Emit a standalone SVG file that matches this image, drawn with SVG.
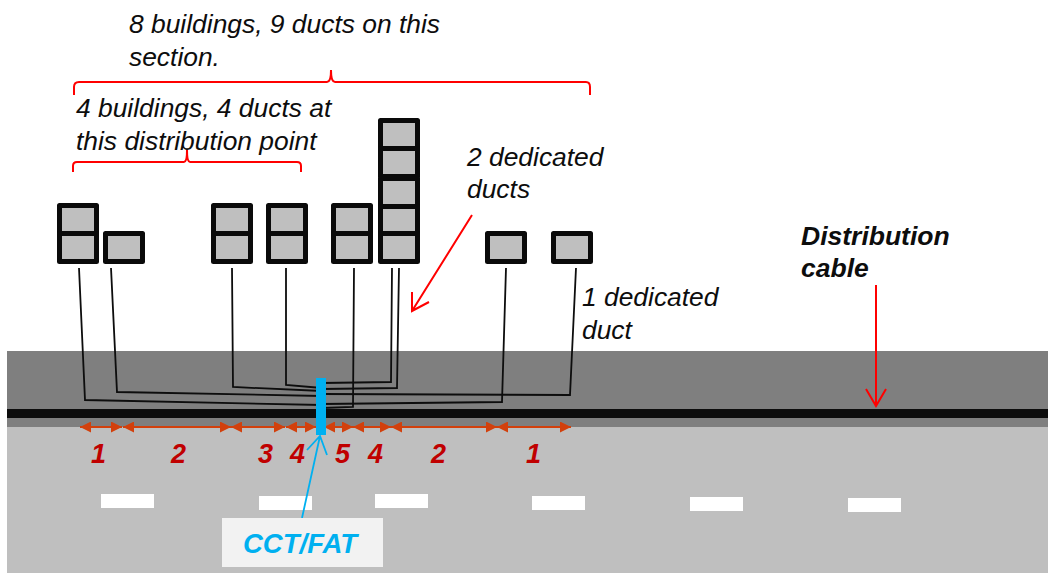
<svg xmlns="http://www.w3.org/2000/svg" width="1048" height="573" viewBox="0 0 1048 573">
<style>
text{font-family:"Liberation Sans",Arial,sans-serif}
.n{font-size:26.400px;font-style:italic;fill:#0d0d0d}
.b{font-size:26.500px;font-style:italic;font-weight:bold;fill:#0d0d0d}
.d{font-size:27px;font-style:italic;font-weight:bold;fill:#c00000}
.c{fill:#bfbfbf;stroke:#0a0a0a;stroke-width:5;stroke-linejoin:round}
.w{fill:#fff}
.l{fill:none;stroke:#0d0d0d;stroke-width:1.800}
.r{fill:none;stroke:#f00;stroke-width:2}
.o{stroke:#d2400c;stroke-width:2;marker-start:url(#h);marker-end:url(#h)}
</style>
<defs><marker id="h" markerUnits="userSpaceOnUse" markerWidth="11" markerHeight="11" refX="11" refY="5.500" orient="auto-start-reverse"><path d="M0 0L11 5.500L0 11Z" fill="#d2400c"/></marker></defs>
<g id="road">
<rect x="7" y="351" width="1041" height="76" fill="#7f7f7f"/>
<rect x="7" y="427" width="1041" height="146" fill="#bfbfbf"/>
<rect x="7" y="409" width="1041" height="9" fill="#0d0d0d"/>
<rect class="w" x="101" y="494" width="53" height="14"/>
<rect class="w" x="259" y="496" width="53" height="14"/>
<rect class="w" x="375" y="494" width="53" height="14"/>
<rect class="w" x="532" y="496" width="53" height="14"/>
<rect class="w" x="690" y="497" width="53" height="14"/>
<rect class="w" x="848" y="498" width="53" height="14"/>
</g>
<g id="building-1"><rect class="c" x="59.500" y="205.500" width="37" height="28"/><rect class="c" x="59.500" y="233.500" width="37" height="28"/></g>
<g id="building-2"><rect class="c" x="105.500" y="233.500" width="37" height="28"/></g>
<g id="building-3"><rect class="c" x="213.500" y="205.500" width="37" height="28"/><rect class="c" x="213.500" y="233.500" width="37" height="28"/></g>
<g id="building-4"><rect class="c" x="268.500" y="205.500" width="37" height="28"/><rect class="c" x="268.500" y="233.500" width="37" height="28"/></g>
<g id="building-5"><rect class="c" x="333.500" y="205.500" width="37" height="28"/><rect class="c" x="333.500" y="233.500" width="37" height="28"/></g>
<g id="building-6">
<rect class="c" x="380.500" y="120.500" width="37" height="28"/>
<rect class="c" x="380.500" y="148.500" width="37" height="28"/>
<rect class="c" x="380.500" y="178.500" width="37" height="28"/>
<rect class="c" x="380.500" y="206.500" width="37" height="28"/>
<rect class="c" x="380.500" y="233.500" width="37" height="28"/>
</g>
<g id="building-7"><rect class="c" x="487.500" y="233.500" width="37" height="28"/></g>
<g id="building-8"><rect class="c" x="553.500" y="233.500" width="37" height="28"/></g>
<g id="connectors">
<path class="l" d="M79 268L85 400L322 405"/>
<path class="l" d="M111 268L117 392L322 396"/>
<path class="l" d="M232 268L233 387L322 391"/>
<path class="l" d="M286 268L286 385L322 388"/>
<path class="l" d="M354 268L353 407L322 408"/>
<path class="l" d="M392 268L391 382L322 383"/>
<path class="l" d="M399 268L397 388L322 389"/>
<path class="l" d="M506 268L502 402L322 404"/>
<path class="l" d="M576 268L570 395L322 394"/>
<path class="r" d="M74 95V87Q74 82 79 82H327Q331 82 331 70Q331 82 335 82H586Q590 82 590 87V95"/>
<path class="r" d="M73 172V166Q73 162 77 162H184Q187 162 187 150Q187 162 190 162H297Q301 162 301 166V172"/>
<path class="r" d="M472 215L412 311M412 292L412 311L429 302"/>
<path class="r" d="M876 285V405M866 389L876 406L886 389"/>
<line class="o" x1="80" y1="427" x2="122" y2="427"/>
<line class="o" x1="123" y1="427" x2="231" y2="427"/>
<line class="o" x1="231" y1="427" x2="285" y2="427"/>
<line class="o" x1="286" y1="427" x2="316" y2="427"/>
<line class="o" x1="324" y1="427" x2="353" y2="427"/>
<line class="o" x1="353" y1="427" x2="391" y2="427"/>
<line class="o" x1="391" y1="427" x2="497" y2="427"/>
<line class="o" x1="497" y1="427" x2="571" y2="427"/>
</g>
<g id="cct-fat">
<rect x="316" y="378" width="10" height="57" fill="#00b0f0"/>
<path d="M302 518L320 436M307 450L320 436L327 455" fill="none" stroke="#00b0f0" stroke-width="1.800"/>
<rect x="222" y="518" width="161" height="49" fill="#f2f2f2"/>
<text x="243" y="553" font-size="27.500" font-style="italic" font-weight="bold" fill="#00b0f0">CCT/FAT</text>
</g>
<g id="labels">
<text class="n" x="129" y="33">8 buildings, 9 ducts on this</text>
<text class="n" x="129" y="66">section.</text>
<text class="n" x="76" y="117">4 buildings, 4 ducts at</text>
<text class="n" x="76" y="150">this distribution point</text>
<text class="n" x="467" y="166">2 dedicated</text>
<text class="n" x="467" y="198">ducts</text>
<text class="n" x="582" y="306">1 dedicated</text>
<text class="n" x="582" y="339">duct</text>
<text class="b" x="801" y="245">Distribution</text>
<text class="b" x="801" y="277">cable</text>
<text class="d" x="91" y="463">1</text>
<text class="d" x="171" y="463">2</text>
<text class="d" x="258" y="463">3</text>
<text class="d" x="290" y="463">4</text>
<text class="d" x="335" y="463">5</text>
<text class="d" x="368" y="463">4</text>
<text class="d" x="431" y="463">2</text>
<text class="d" x="526" y="463">1</text>
</g>
</svg>
